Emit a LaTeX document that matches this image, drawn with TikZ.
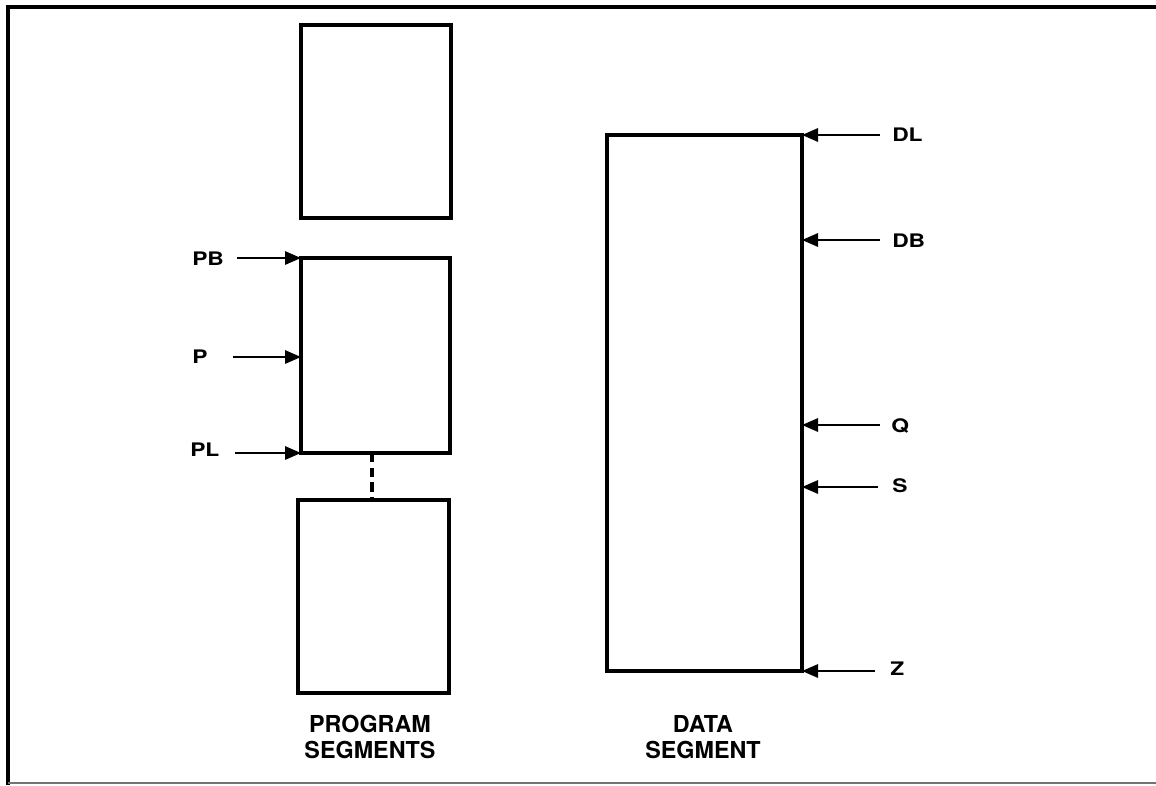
\documentclass[tikz,border=0pt]{standalone}
\usepackage{fontspec}
\setmainfont{TeX Gyre Heros}
\usetikzlibrary{arrows.meta}
\newcommand{\widelbl}[1]{\scalebox{1.22}[1]{#1}}
\begin{document}
\begin{tikzpicture}[x=0.75pt,y=-0.75pt,
  seg/.style={draw,line width=2.4pt,inner sep=0pt,outer sep=0pt},
  lbl/.style={font=\fontsize{14}{15}\selectfont\bfseries,inner sep=0pt,anchor=west},
  ptr/.style={line width=1.5pt,-{Triangle[length=12pt,width=10pt]}},
  captxt/.style={font=\fontsize{17.5}{20}\selectfont\bfseries,align=center,inner sep=0pt}]
\useasboundingbox (0,0) rectangle (1156,785);
\draw[line width=2.4pt] (8,785) -- (8,7) -- (1156,7);
\draw[line width=1.8pt,black!55] (8,783) -- (1156,783);
% program segments
\node[seg,minimum width=150*0.75pt,minimum height=193*0.75pt] (p1) at (376,121.5) {};
\node[seg,minimum width=149*0.75pt,minimum height=195*0.75pt] (p2) at (375.5,355.5) {};
\node[seg,minimum width=151*0.75pt,minimum height=193*0.75pt] (p3) at (373.5,596.5) {};
\draw[line width=2.6pt,dash pattern=on 7pt off 4pt] (p2.south -| 372,0) -- (p3.north -| 372,0);
% data segment
\node[seg,minimum width=195*0.75pt,minimum height=536*0.75pt] (d) at (704.5,403) {};
% left labels
\node[lbl] (PB) at (192,259) {\widelbl{PB}};
\node[lbl] (P) at (192,357) {\widelbl{P}};
\node[lbl] (PL) at (190,450) {\widelbl{PL}};
\draw[ptr] (p2.north west -| 237,0) -- (p2.north west);
\draw[ptr] (233,357) -- (p2.west |- 0,357);
\draw[ptr] (p2.south west -| 235,0) -- (p2.south west);
% right labels
\node[lbl] (DL) at (892,135) {\widelbl{DL}};
\node[lbl] (DB) at (892,241) {\widelbl{DB}};
\node[lbl] (Q) at (891,426) {\widelbl{Q}};
\node[lbl] (S) at (892,486) {\widelbl{S}};
\node[lbl] (Z) at (890,669) {\widelbl{Z}};
\draw[ptr] (d.north east -| 880,0) -- (d.north east);
\draw[ptr] (880,240) -- (d.east |- 0,240);
\draw[ptr] (880,425) -- (d.east |- 0,425);
\draw[ptr] (878,487) -- (d.east |- 0,487);
\draw[ptr] (d.south east -| 875,0) -- (d.south east);
% captions
\node[captxt] (pc) at (370,737) {PROGRAM\\SEGMENTS};
\node[captxt] (dc) at (703,737) {DATA\\SEGMENT};
\end{tikzpicture}
\end{document}
